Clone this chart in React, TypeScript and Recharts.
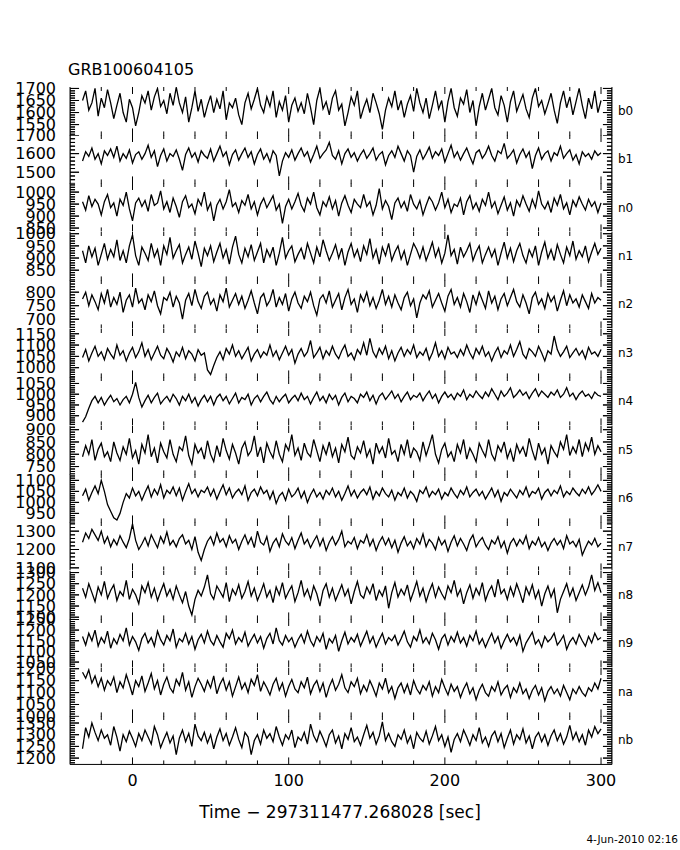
import { Line, LineChart, ReferenceLine, XAxis, YAxis } from 'recharts';

// Time bins (seconds from trigger), sampled every 2 s
const TIME = [
  -32, -30, -28, -26, -24, -22, -20, -18, -16, -14,
  -12, -10, -8, -6, -4, -2, 0, 2, 4, 6,
  8, 10, 12, 14, 16, 18, 20, 22, 24, 26,
  28, 30, 32, 34, 36, 38, 40, 42, 44, 46,
  48, 50, 52, 54, 56, 58, 60, 62, 64, 66,
  68, 70, 72, 74, 76, 78, 80, 82, 84, 86,
  88, 90, 92, 94, 96, 98, 100, 102, 104, 106,
  108, 110, 112, 114, 116, 118, 120, 122, 124, 126,
  128, 130, 132, 134, 136, 138, 140, 142, 144, 146,
  148, 150, 152, 154, 156, 158, 160, 162, 164, 166,
  168, 170, 172, 174, 176, 178, 180, 182, 184, 186,
  188, 190, 192, 194, 196, 198, 200, 202, 204, 206,
  208, 210, 212, 214, 216, 218, 220, 222, 224, 226,
  228, 230, 232, 234, 236, 238, 240, 242, 244, 246,
  248, 250, 252, 254, 256, 258, 260, 262, 264, 266,
  268, 270, 272, 274, 276, 278, 280, 282, 284, 286,
  288, 290, 292, 294, 296, 298, 300,
];

const DETECTORS = ['b0', 'b1', 'n0', 'n1', 'n2', 'n3', 'n4', 'n5', 'n6', 'n7', 'n8', 'n9', 'na', 'nb'];

// count rates per detector
const B0 = [
  1650, 1690, 1610, 1640, 1700, 1585, 1660, 1620, 1695, 1640,
  1575, 1630, 1680, 1600, 1560, 1655, 1620, 1545, 1600, 1670,
  1640, 1690, 1610, 1665, 1700, 1625, 1650, 1595, 1680, 1630,
  1705, 1640, 1600, 1665, 1560, 1620, 1690, 1605, 1655, 1580,
  1630, 1670, 1600, 1655, 1615, 1690, 1570, 1640, 1620, 1660,
  1590, 1550, 1640, 1680, 1615, 1655, 1700, 1630, 1600, 1665,
  1625, 1690, 1580, 1645, 1610, 1670, 1560, 1630, 1660, 1605,
  1640, 1595, 1680, 1620, 1550, 1650, 1700, 1615, 1645, 1590,
  1660, 1690, 1610, 1635, 1545, 1600, 1665, 1630, 1690, 1575,
  1620, 1655, 1600, 1680, 1640, 1595, 1530, 1610, 1660, 1625,
  1690, 1610, 1650, 1580, 1635, 1670, 1605, 1700, 1640, 1600,
  1660, 1575, 1630, 1690, 1615, 1650, 1560, 1645, 1700, 1620,
  1585, 1660, 1635, 1695, 1600, 1650, 1545, 1625, 1680, 1610,
  1655, 1700, 1620, 1590, 1670, 1630, 1560, 1645, 1690, 1605,
  1640, 1675, 1615, 1580, 1660, 1700, 1625, 1650, 1595, 1635,
  1680, 1610, 1555, 1640, 1690, 1620, 1665, 1590, 1645, 1700,
  1630, 1575, 1660, 1615, 1690, 1600, 1650,
];
const B1 = [
  1560, 1610, 1585, 1630, 1570, 1600, 1545, 1615, 1590, 1625,
  1580, 1640, 1560, 1600, 1575, 1620, 1550, 1595, 1610, 1570,
  1600, 1645, 1580, 1615, 1530, 1590, 1625, 1560, 1600, 1585,
  1620, 1570, 1510, 1595, 1630, 1580, 1605, 1555, 1615, 1590,
  1575, 1625, 1560, 1600, 1640, 1585, 1610, 1540, 1595, 1620,
  1565, 1600, 1630, 1580, 1610, 1545, 1595, 1625, 1570, 1600,
  1555, 1615, 1590, 1480, 1560, 1605, 1580, 1620, 1565, 1600,
  1630, 1585, 1610, 1555, 1595, 1640, 1575, 1600, 1620, 1660,
  1590, 1570, 1615, 1545, 1600, 1625, 1580, 1605, 1560, 1595,
  1620, 1575, 1600, 1630, 1565, 1595, 1610, 1540, 1590, 1615,
  1580, 1640, 1600, 1560, 1615, 1590, 1500, 1585, 1620, 1570,
  1600, 1635, 1575, 1610, 1590, 1625, 1555, 1600, 1645, 1580,
  1610, 1565, 1600, 1630, 1585, 1545, 1605, 1620, 1575, 1600,
  1640, 1590, 1560, 1615, 1600, 1655, 1575, 1595, 1620, 1550,
  1595, 1625, 1580, 1610, 1520, 1590, 1630, 1570, 1600, 1615,
  1560, 1605, 1590, 1640, 1575, 1600, 1620, 1565, 1595, 1545,
  1610, 1585, 1600, 1570, 1615, 1590, 1605,
];
const N0 = [
  960, 925, 985, 940, 970, 950, 905, 960, 990, 935,
  955, 900, 970, 945, 1000, 930, 880, 955, 975, 940,
  965, 920, 990, 945, 955, 1005, 930, 960, 915, 975,
  940, 895, 960, 985, 935, 950, 910, 970, 945, 1000,
  925, 955, 880, 945, 970, 930, 960, 1010, 940, 955,
  915, 965, 945, 990, 930, 960, 905, 950, 975, 935,
  960, 985, 925, 950, 870, 940, 970, 930, 960, 995,
  945, 920, 975, 950, 1000, 935, 905, 960, 940, 980,
  930, 965, 900, 955, 985, 945, 915, 970, 950, 935,
  990, 940, 960, 905, 945, 1015, 930, 965, 940, 885,
  955, 975, 935, 960, 920, 990, 950, 930, 965, 905,
  945, 980, 960, 925, 955, 1000, 935, 970, 915, 950,
  940, 975, 905, 960, 985, 930, 955, 920, 970, 945,
  1000, 935, 960, 910, 945, 980, 925, 955, 900, 965,
  940, 985, 950, 920, 970, 935, 1005, 950, 930, 960,
  915, 975, 945, 990, 930, 955, 905, 965, 940, 980,
  950, 925, 970, 940, 960, 915, 955,
];
const N1 = [
  930, 880, 950, 905, 940, 870, 915, 960, 895, 935,
  905, 975, 890, 930, 880, 950, 995, 910, 870, 945,
  920, 890, 960, 905, 935, 870, 950, 915, 985, 900,
  930, 955, 880, 915, 945, 895, 970, 920, 865, 940,
  910, 950, 885, 925, 960, 900, 935, 875, 945, 990,
  915, 880, 940, 905, 955, 890, 925, 960, 880, 935,
  905, 945, 870, 920, 985, 900, 930, 950, 885, 915,
  940, 895, 960, 920, 880, 945, 905, 975, 930, 890,
  920, 955, 900, 940, 870, 925, 960, 905, 935, 885,
  950, 915, 980, 900, 935, 875, 945, 910, 960, 890,
  925, 950, 895, 930, 870, 915, 960, 935, 900, 945,
  890, 925, 965, 905, 940, 880, 920, 995, 910, 935,
  875, 945, 905, 930, 960, 890, 925, 950, 880, 915,
  945, 905, 935, 870, 920, 965, 900, 940, 885, 930,
  960, 910, 880, 935, 905, 950, 870, 925, 965, 900,
  935, 890, 955, 915, 880, 945, 910, 970, 895, 930,
  905, 950, 885, 925, 960, 915, 940,
];
const N2 = [
  775, 800, 750, 790, 765, 735, 795, 760, 810, 745,
  780, 755, 800, 725, 770, 790, 745, 815, 760, 775,
  735, 790, 765, 805, 750, 720, 780, 770, 800, 745,
  785, 760, 700, 770, 795, 750, 810, 765, 740, 785,
  800, 755, 775, 730, 790, 765, 815, 745, 770, 795,
  755, 785, 740, 770, 805, 760, 720, 780, 795, 750,
  770, 810, 745, 780, 755, 795, 730, 775, 800, 760,
  740, 785, 765, 800, 750, 715, 775, 790, 760, 805,
  745, 770, 795, 735, 780, 810, 755, 775, 725, 790,
  765, 800, 750, 780, 740, 770, 810, 755, 785, 745,
  790, 760, 735, 780, 800, 750, 775, 705, 760, 790,
  775, 805, 745, 770, 795, 760, 730, 785, 810, 755,
  780, 745, 795, 765, 725, 790, 755, 800, 770, 740,
  805, 760, 785, 735, 775, 795, 750, 780, 810, 765,
  745, 790, 760, 720, 780, 800, 755, 775, 740, 795,
  765, 785, 730, 770, 805, 750, 790, 760, 775, 745,
  790, 765, 740, 795, 760, 780, 770,
];
const N3 = [
  1045, 1080, 1030, 1065, 1095, 1050, 1070, 1035, 1085, 1060,
  1040, 1100, 1055, 1075, 1030, 1065, 1090, 1045, 1070, 1110,
  1050, 1080, 1035, 1065, 1095, 1055, 1040, 1085, 1060, 1025,
  1070, 1050, 1090, 1040, 1075, 1060, 1030, 1080, 1055, 1065,
  990, 970, 1010, 1045, 1070, 1035, 1085, 1060, 1100, 1050,
  1075, 1040, 1065, 1090, 1030, 1060, 1080, 1045, 1070, 1055,
  1100, 1050, 1075, 1035, 1065, 1095, 1055, 1080, 1020, 1060,
  1085, 1050, 1070, 1120, 1045, 1065, 1090, 1040, 1075, 1055,
  1095, 1060, 1040, 1075, 1100, 1050, 1065, 1035, 1080, 1060,
  1110, 1055, 1130, 1070, 1045, 1085, 1060, 1095, 1040, 1075,
  1030, 1065, 1090, 1050, 1080, 1060, 1100, 1045, 1070, 1055,
  1085, 1035, 1065, 1110, 1050, 1075, 1040, 1090, 1060, 1070,
  1045, 1080, 1055, 1100, 1065, 1040, 1085, 1060, 1095, 1050,
  1070, 1030, 1065, 1090, 1045, 1075, 1060, 1100, 1050, 1080,
  1115, 1060, 1040, 1085, 1070, 1050, 1095, 1065, 1030, 1075,
  1060, 1140, 1080, 1050, 1070, 1095, 1045, 1065, 1085, 1055,
  1075, 1040, 1090, 1060, 1070, 1050, 1080,
];
const N4 = [
  870, 895, 935, 970, 990, 960, 985, 950, 975, 995,
  965, 980, 950, 975, 990, 960, 1000, 1055, 985, 940,
  970, 995, 960, 985, 1005, 955, 975, 990, 965, 1000,
  980, 950, 990, 970, 1000, 960, 985, 945, 975, 995,
  965, 990, 950, 985, 1000, 970, 990, 955, 980, 1005,
  960, 985, 975, 1000, 950, 980, 995, 965, 990, 1010,
  975, 955, 990, 965, 985, 1000, 960, 980, 995, 970,
  1005, 975, 990, 955, 985, 1010, 970, 990, 960, 1000,
  975, 995, 950, 985, 1005, 965, 990, 980, 960, 1000,
  985, 1010, 970, 995, 955, 990, 1005, 975, 995, 1015,
  980, 1000, 965, 990, 1010, 975, 995, 985, 1005, 970,
  995, 1015, 980, 1000, 960, 990, 1010, 985, 1000, 975,
  1005, 990, 1020, 975, 1000, 985, 1015, 995, 980, 1010,
  990, 1025, 1000, 975, 1015, 990, 1005, 1030, 985, 1000,
  1020, 995, 1010, 980, 1005, 1025, 990, 1015, 1000, 985,
  1010, 995, 1020, 985, 1000, 1030, 990, 1005, 975, 1000,
  1015, 990, 1000, 980, 1010, 995, 990,
];
const N5 = [
  790, 835, 800, 860, 775, 820, 845, 790, 810, 770,
  850, 805, 775, 830, 800, 865, 785, 815, 760, 840,
  805, 880, 790, 825, 765, 845, 810, 785, 860, 800,
  770, 830, 815, 875, 795, 760, 840, 805, 825, 780,
  855, 800, 770, 835, 790, 865, 815, 780, 840, 805,
  760, 825, 850, 795, 815, 875, 790, 830, 765, 845,
  810, 785, 855, 800, 770, 840, 815, 880, 795, 825,
  775, 845, 805, 790, 860, 815, 770, 835, 800, 850,
  790, 825, 765, 840, 810, 870, 795, 780, 830, 805,
  855, 790, 820, 760, 845, 805, 830, 785, 865, 800,
  815, 770, 840, 800, 860, 785, 825, 810, 775, 850,
  795, 835, 880, 800, 765, 820, 845, 790, 810, 770,
  840, 805, 860, 780, 825, 800, 770, 845, 815, 790,
  860, 800, 775, 835, 810, 850, 785, 820, 770, 840,
  805, 830, 790, 865, 815, 775, 845, 800, 825, 760,
  835, 810, 790, 850, 820, 880, 795, 830, 805, 860,
  790, 845, 815, 870, 800, 835, 810,
];
const N6 = [
  1030, 1060, 1010, 1045, 1075, 1040, 1100, 1050, 990, 960,
  930, 920, 950, 1000, 1040, 1020, 1065, 1030, 1050, 1010,
  1045, 1075, 1025, 1060, 1035, 1080, 1020, 1055, 1040, 1070,
  1030, 1065, 1010, 1050, 1085, 1040, 1060, 1025, 1055, 1045,
  1070, 1030, 1060, 1015, 1050, 1080, 1035, 1065, 1020, 1045,
  1060, 1035, 1075, 1010, 1045, 1060, 1030, 1070, 1040, 1055,
  1015, 1050, 995, 1030, 1045, 1010, 1060, 1025, 1040, 1065,
  1020, 1050, 1000, 1035, 1060, 1025, 1045, 1015, 1055, 1035,
  1065, 1025, 1050, 1010, 1040, 1075, 1030, 1055, 1020, 1045,
  1060, 1035, 1070, 1015, 1050, 1030, 1065, 1040, 1025, 1055,
  1010, 1045, 1030, 1065, 1020, 1050, 1035, 1005, 1055, 1040,
  1070, 1025, 1050, 1035, 1060, 1015, 1045, 1030, 1065, 1040,
  1020, 1055, 1035, 1070, 1025, 1045, 1060, 1030, 1050, 1015,
  1040, 1065, 1025, 1055, 1005, 1045, 1030, 1060, 1040, 1020,
  1055, 1035, 1070, 1025, 1050, 1040, 1065, 1015, 1045, 1060,
  1030, 1055, 1040, 1075, 1025, 1050, 1035, 1065, 1045, 1030,
  1060, 1040, 1070, 1035, 1055, 1080, 1050,
];
const N7 = [
  1240, 1290, 1260, 1310, 1280, 1250, 1300, 1235, 1270, 1215,
  1255, 1225, 1275, 1240, 1210, 1260, 1340, 1250, 1200, 1230,
  1265, 1220, 1280, 1245, 1210, 1270, 1235, 1295, 1225, 1250,
  1215, 1260, 1280, 1230, 1250, 1200, 1270, 1185, 1140, 1200,
  1245, 1270, 1225, 1290, 1240, 1260, 1215, 1275, 1235, 1255,
  1200, 1245, 1280, 1230, 1265, 1210, 1300, 1240, 1225, 1270,
  1190, 1235, 1260, 1215, 1285, 1245, 1225, 1265, 1205, 1250,
  1290, 1230, 1255, 1210, 1245, 1275, 1220, 1260, 1195, 1240,
  1270, 1225, 1255, 1300, 1215, 1245, 1230, 1265, 1205, 1250,
  1235, 1280, 1220, 1255, 1195, 1240, 1270, 1225, 1260, 1210,
  1250, 1185, 1235, 1270, 1220, 1245, 1205, 1260, 1230, 1285,
  1215, 1255, 1235, 1200, 1265, 1225, 1250, 1190, 1240, 1275,
  1220, 1260, 1230, 1195, 1250, 1280, 1215, 1245, 1265, 1225,
  1200, 1250, 1230, 1270, 1210, 1245, 1180, 1235, 1260, 1220,
  1255, 1230, 1275, 1205, 1245, 1225, 1265, 1215, 1240, 1195,
  1235, 1260, 1225, 1250, 1205, 1275, 1230, 1245, 1215, 1255,
  1170, 1210, 1245, 1225, 1260, 1215, 1235,
];
const N8 = [
  1230, 1190, 1250, 1210, 1170, 1235, 1200, 1260, 1185, 1220,
  1245, 1175, 1215, 1195, 1265, 1180, 1225, 1200, 1160, 1240,
  1210, 1255, 1190, 1230, 1175, 1215, 1250, 1195, 1225, 1180,
  1240, 1200, 1165, 1215, 1150, 1110, 1180, 1220, 1195, 1235,
  1290, 1205, 1180, 1240, 1215, 1190, 1255, 1170, 1225, 1200,
  1245, 1185, 1215, 1260, 1195, 1230, 1175, 1210, 1250, 1190,
  1220, 1165, 1235, 1200, 1255, 1185, 1215, 1240, 1170, 1210,
  1265, 1195, 1225, 1180, 1240, 1205, 1150, 1220, 1250, 1190,
  1230, 1175, 1210, 1245, 1195, 1225, 1160, 1215, 1260, 1200,
  1185, 1235, 1205, 1250, 1175, 1220, 1195, 1240, 1140, 1210,
  1255, 1190, 1225, 1200, 1245, 1175, 1215, 1260, 1195, 1230,
  1170, 1215, 1250, 1190, 1235, 1205, 1180, 1240, 1210, 1265,
  1195, 1225, 1160, 1210, 1245, 1185, 1230, 1200, 1255, 1175,
  1215, 1240, 1190, 1270, 1205, 1225, 1180, 1235, 1195, 1250,
  1210, 1165, 1235, 1200, 1245, 1185, 1220, 1150, 1205, 1240,
  1190, 1225, 1120, 1180, 1215, 1250, 1195, 1230, 1175, 1210,
  1245, 1200, 1235, 1290, 1220, 1255, 1210,
];
const N9 = [
  1170, 1130, 1185, 1150, 1200, 1125, 1165, 1140, 1195, 1115,
  1160, 1135, 1180, 1150, 1210, 1130, 1170, 1145, 1105, 1160,
  1185, 1140, 1165, 1125, 1195, 1155, 1130, 1175, 1150, 1205,
  1120, 1160, 1145, 1185, 1135, 1170, 1110, 1155, 1180, 1140,
  1195, 1150, 1130, 1175, 1145, 1120, 1185, 1160, 1200, 1135,
  1165, 1145, 1190, 1125, 1155, 1180, 1140, 1170, 1115, 1160,
  1185, 1135, 1210, 1150, 1130, 1175, 1145, 1165, 1120, 1155,
  1180, 1140, 1195, 1150, 1125, 1170, 1145, 1185, 1110, 1160,
  1140, 1175, 1100, 1150, 1190, 1135, 1165, 1145, 1180, 1125,
  1160, 1195, 1140, 1170, 1120, 1155, 1185, 1135, 1165, 1150,
  1175, 1130, 1160, 1195, 1145, 1120, 1170, 1150, 1200, 1140,
  1165, 1135, 1185, 1155, 1110, 1160, 1180, 1130, 1170, 1145,
  1190, 1140, 1165, 1125, 1175, 1150, 1195, 1135, 1160, 1120,
  1155, 1185, 1140, 1170, 1115, 1150, 1180, 1145, 1165, 1130,
  1175, 1100, 1140, 1165, 1190, 1135, 1155, 1120, 1170, 1145,
  1160, 1185, 1130, 1150, 1175, 1110, 1145, 1165, 1135, 1180,
  1150, 1125, 1170, 1140, 1185, 1155, 1165,
];
const NA = [
  1185, 1160, 1195, 1140, 1170, 1125, 1160, 1110, 1150, 1130,
  1165, 1100, 1145, 1120, 1175, 1135, 1090, 1150, 1125, 1170,
  1105, 1140, 1180, 1115, 1150, 1090, 1135, 1165, 1120, 1100,
  1155, 1130, 1185, 1110, 1145, 1080, 1125, 1160, 1135, 1105,
  1150, 1120, 1170, 1095, 1135, 1160, 1110, 1145, 1085, 1125,
  1165, 1115, 1140, 1100, 1155, 1130, 1175, 1105, 1145, 1120,
  1090, 1135, 1160, 1110, 1140, 1085, 1125, 1155, 1115, 1100,
  1145, 1120, 1165, 1095, 1130, 1150, 1105, 1140, 1080, 1125,
  1155, 1110, 1135, 1175, 1120, 1100, 1145, 1125, 1160, 1095,
  1130, 1105, 1150, 1120, 1085, 1140, 1115, 1160, 1100, 1125,
  1075, 1120, 1140, 1100, 1135, 1090, 1150, 1115, 1095, 1130,
  1110, 1145, 1085, 1125, 1100, 1155, 1120, 1090, 1135, 1105,
  1125, 1080, 1115, 1140, 1095, 1120, 1070, 1110, 1135, 1100,
  1085, 1125, 1105, 1145, 1090, 1115, 1130, 1080, 1120, 1100,
  1140, 1095, 1115, 1075, 1110, 1130, 1090, 1120, 1065, 1105,
  1125, 1095, 1115, 1085, 1130, 1100, 1070, 1115, 1095, 1125,
  1100, 1085, 1120, 1105, 1140, 1115, 1160,
];
const NB = [
  1240, 1330, 1290, 1350, 1310, 1275, 1320, 1285, 1300, 1255,
  1335, 1290, 1230, 1300, 1270, 1315, 1285, 1250, 1305, 1275,
  1320, 1290, 1260, 1335, 1300, 1245, 1280, 1310, 1265, 1295,
  1215, 1285, 1320, 1270, 1305, 1250, 1345, 1295, 1275, 1310,
  1265, 1300, 1240, 1290, 1325, 1275, 1305, 1255, 1290, 1330,
  1280, 1245, 1310, 1290, 1215, 1275, 1300, 1260, 1320, 1285,
  1305, 1270, 1335, 1290, 1255, 1300, 1280, 1320, 1245, 1290,
  1275, 1310, 1260, 1345, 1295, 1270, 1315, 1285, 1250, 1300,
  1320, 1265, 1295, 1240, 1305, 1280, 1330, 1270, 1290, 1255,
  1300, 1340, 1285, 1310, 1260, 1295, 1355, 1275, 1305, 1270,
  1250, 1300, 1280, 1320, 1265, 1295, 1240, 1310, 1285, 1270,
  1315, 1260, 1295, 1335, 1275, 1300, 1250, 1290, 1225, 1280,
  1305, 1270, 1320, 1290, 1255, 1300, 1275, 1330, 1265, 1290,
  1250, 1295, 1315, 1270, 1305, 1245, 1285, 1320, 1260, 1300,
  1280, 1325, 1265, 1295, 1240, 1290, 1310, 1270, 1300, 1255,
  1295, 1320, 1275, 1305, 1260, 1290, 1340, 1280, 1310, 1270,
  1300, 1255, 1320, 1290, 1335, 1305, 1325,
];

const RATES = [B0, B1, N0, N1, N2, N3, N4, N5, N6, N7, N8, N9, NA, NB];

const Y_DOMAINS: [number, number][] = [
  [1505, 1706], [1440, 1700], [836, 1038], [808, 1007], [666, 845],
  [957, 1171], [855, 1080], [718, 915], [909, 1129], [1086, 1350],
  [1090, 1307], [1025, 1252], [1000, 1203], [1173, 1380],
];
const Y_MAJOR = [50, 100, 50, 50, 50, 50, 50, 50, 50, 100, 50, 50, 50, 50];

const X_DOMAIN: [number, number] = [-40, 307];
const X_TICKS = [-20, 0, 20, 40, 60, 80, 100, 120, 140, 160, 180, 200, 220, 240, 260, 280, 300];

const FONT = '"DejaVu Sans", "Liberation Sans", sans-serif';
const WIDTH = 680;
const PLOT_LEFT = 70;
const PLOT_RIGHT = 612;
const TOP0 = 86.5;
const PANEL_H = 48.43;
const PAD = 2;
const X_LABEL_H = 30;
const SEC_PER_PX = (X_DOMAIN[1] - X_DOMAIN[0]) / (PLOT_RIGHT - PLOT_LEFT);

function yTickValues(lo: number, hi: number, major: number): number[] {
  const step = major / 5;
  const out: number[] = [];
  for (let v = Math.ceil(lo / step) * step; v <= hi; v += step) out.push(v);
  return out;
}

// comb of inward ticks along a frame edge, drawn as one polyline series
function frameComb(ticks: number[], major: number, edge: number, dir: number) {
  const pts: { t: number; tick: number }[] = [];
  for (const v of ticks) {
    const len = (v % major === 0 ? 9 : 5) * SEC_PER_PX;
    pts.push({ t: edge, tick: v }, { t: edge + dir * len, tick: v }, { t: edge, tick: v });
  }
  return pts;
}

function Panel({ index }: { index: number }) {
  const rates = RATES[index];
  const data = TIME.map((t, k) => ({ t, rate: rates[k] }));
  const [lo, hi] = Y_DOMAINS[index];
  const major = Y_MAJOR[index];
  const ticks = yTickValues(lo, hi, major);
  const last = index === RATES.length - 1;
  const height = PANEL_H + 2 * PAD + (last ? X_LABEL_H : 0);
  const unitsPerPx = (hi - lo) / PANEL_H;
  const leftComb = frameComb(ticks, major, X_DOMAIN[0], 1);
  const rightComb = frameComb(ticks, major, X_DOMAIN[1], -1);

  const marks = [];
  for (const t of X_TICKS) {
    const len = (t % 100 === 0 ? 7 : 4) * unitsPerPx;
    marks.push(
      <ReferenceLine key={`b${t}`} xAxisId="b" yAxisId="l" segment={[{ x: t, y: lo }, { x: t, y: lo + len }]} stroke="#000" strokeWidth={1} ifOverflow="visible" />,
    );
    marks.push(
      <ReferenceLine key={`t${t}`} xAxisId="b" yAxisId="l" segment={[{ x: t, y: hi - len }, { x: t, y: hi }]} stroke="#000" strokeWidth={1} ifOverflow="visible" />,
    );
  }

  return (
    <div style={{ position: 'absolute', left: 0, top: TOP0 + index * PANEL_H - PAD }}>
      <LineChart width={WIDTH} height={height} data={data} margin={{ top: PAD, right: 0, bottom: PAD, left: 0 }}>
        <XAxis
          xAxisId="b"
          dataKey="t"
          type="number"
          domain={X_DOMAIN}
          ticks={X_TICKS}
          interval={0}
          allowDataOverflow
          height={last ? X_LABEL_H : 0}
          tickSize={0}
          tickMargin={0}
          tickLine={false}
          axisLine={{ stroke: '#000' }}
          tick={(p: any) =>
            last && p.payload.value % 100 === 0 ? (
              <text x={p.x} y={p.y + 16} dy="0.36em" textAnchor="middle" fontSize={16} fontFamily={FONT} fill="#000">
                {p.payload.value}
              </text>
            ) : (
              <g />
            )
          }
        />
        <XAxis
          xAxisId="t"
          orientation="top"
          dataKey="t"
          type="number"
          domain={X_DOMAIN}
          allowDataOverflow
          height={0}
          tick={false}
          tickLine={false}
          axisLine={{ stroke: '#000' }}
        />
        <YAxis
          yAxisId="l"
          width={PLOT_LEFT}
          domain={[lo, hi]}
          ticks={ticks}
          interval={0}
          allowDataOverflow
          tickSize={0}
          tickMargin={0}
          tickLine={false}
          axisLine={{ stroke: '#000' }}
          tick={(p: any) =>
            p.payload.value % major === 0 ? (
              <text x={p.x - 14} y={p.y} dy="0.36em" textAnchor="end" fontSize={16} fontFamily={FONT} fill="#000">
                {p.payload.value}
              </text>
            ) : (
              <g />
            )
          }
        />
        <YAxis
          yAxisId="r"
          orientation="right"
          width={WIDTH - PLOT_RIGHT}
          domain={[lo, hi]}
          allowDataOverflow
          tick={false}
          tickLine={false}
          axisLine={{ stroke: '#000' }}
        />
        {marks}
        <Line data={leftComb} xAxisId="b" yAxisId="l" dataKey="tick" stroke="#000" strokeWidth={1} strokeLinejoin="bevel" dot={false} activeDot={false} isAnimationActive={false} />
        <Line data={rightComb} xAxisId="b" yAxisId="l" dataKey="tick" stroke="#000" strokeWidth={1} strokeLinejoin="bevel" dot={false} activeDot={false} isAnimationActive={false} />
        <Line xAxisId="b" yAxisId="l" dataKey="rate" stroke="#000" strokeWidth={1.3} dot={false} isAnimationActive={false} />
        <Line xAxisId="t" yAxisId="r" dataKey="rate" stroke="none" dot={false} isAnimationActive={false} />
      </LineChart>
    </div>
  );
}

export default function App() {
  return (
    <div style={{ position: 'absolute', left: 0, top: 0, width: 680, height: 850, background: '#fff' }}>
      <style>{'.recharts-surface{overflow:visible}'}</style>
      {RATES.map((_, i) => (
        <Panel key={DETECTORS[i]} index={i} />
      ))}
      <svg width={680} height={850} style={{ position: 'absolute', left: 0, top: 0, pointerEvents: 'none' }}>
        <text x={68} y={75} fontSize={16} fontFamily={FONT} fill="#000">GRB100604105</text>
        {DETECTORS.map((d, i) => (
          <text key={d} x={618} y={TOP0 + (i + 0.5) * PANEL_H + 4} fontSize={12} fontFamily={FONT} fill="#000">
            {d}
          </text>
        ))}
        <text x={340} y={818} textAnchor="middle" fontSize={17} fontFamily={FONT} fill="#000">
          Time − 297311477.268028 [sec]
        </text>
        <text x={678} y={843} textAnchor="end" fontSize={10.5} fontFamily={FONT} fill="#000">
          4-Jun-2010 02:16
        </text>
      </svg>
    </div>
  );
}
